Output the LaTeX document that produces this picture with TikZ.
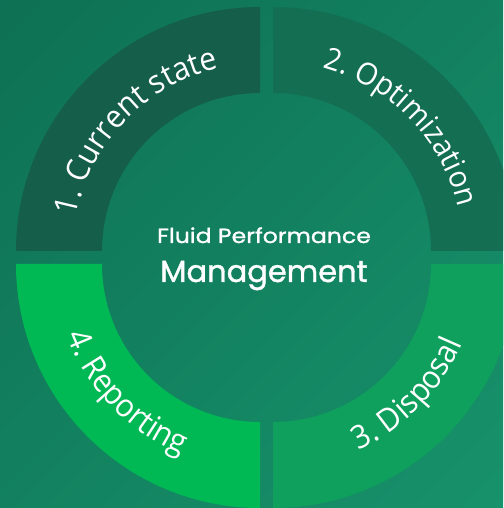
\documentclass[tikz,border=0pt]{standalone}
\usepackage{fontspec}
\setmainfont{Open Sans}
\newfontfamily\lblfam[FakeStretch=0.94]{Open Sans}
\newfontfamily\centerfont[FakeBold=1.2]{Poppins}
\newfontfamily\centerwide[FakeBold=1.2,FakeStretch=1.15]{Poppins}
\usetikzlibrary{decorations.text,calc}
\definecolor{bgA}{HTML}{0D6E52}
\definecolor{bgB}{HTML}{18946C}
\definecolor{segA}{HTML}{155E4A}
\definecolor{segB}{HTML}{136E52}
\definecolor{segC}{HTML}{0EA05C}
\definecolor{segD}{HTML}{00B955}
\tikzset{
  seglabel/.style={decorate, decoration={text along path, text align=center,
     text color=white, text={#1}}},
}
\newcommand{\arclabel}[6]{% corner, start, end, radius, size, text
  \path[seglabel={|\lblfam\fontsize{#5}{#5}\selectfont|#6}] ($(#1)+(#2:#4)$) arc[start angle=#2,end angle=#3,radius=#4];
}
\begin{document}
\begin{tikzpicture}[x=1pt,y=1pt]
\useasboundingbox (0,0) rectangle (503,508);
\clip (0,0) rectangle (503,508);
\shade[top color=bgA, bottom color=bgB, shading angle=45] (-150,-150) rectangle (653,658);
\coordinate (tl) at (260,257);
\coordinate (tr) at (273,257);
\coordinate (br) at (273,244);
\coordinate (bl) at (260,244);
% segments
\fill[segA] ($(tl)+(180:244)$) arc[start angle=180,end angle=90,radius=244]
   -- ($(tl)+(90:158)$) arc[start angle=90,end angle=180,radius=158] -- cycle;
\fill[segB] ($(tr)+(90:244)$) arc[start angle=90,end angle=0,radius=244]
   -- ($(tr)+(0:158)$) arc[start angle=0,end angle=90,radius=158] -- cycle;
\fill[segC] ($(br)+(0:244)$) arc[start angle=0,end angle=-90,radius=244]
   -- ($(br)+(-90:158)$) arc[start angle=-90,end angle=0,radius=158] -- cycle;
\fill[segD] ($(bl)+(-90:244)$) arc[start angle=-90,end angle=-180,radius=244]
   -- ($(bl)+(180:158)$) arc[start angle=180,end angle=270,radius=158] -- cycle;
% labels
\arclabel{tl}{176}{96}{187}{32}{1. Current state}
\arclabel{tr}{84}{4}{190}{30.5}{2. Optimization}
\arclabel{br}{-84}{-4}{205}{32}{3. Disposal}
\arclabel{bl}{184}{264}{206}{32}{4. Reporting}
% center
\node[anchor=base, text=white, font=\centerwide\fontsize{20.5}{20.5}\selectfont, inner sep=0pt] (t1) at (264,265) {Fluid Performance};
\node[anchor=base, text=white, font=\centerfont\fontsize{30.5}{30.5}\selectfont, inner sep=0pt] (t2) at (264,226) {Management};
\end{tikzpicture}
\end{document}
